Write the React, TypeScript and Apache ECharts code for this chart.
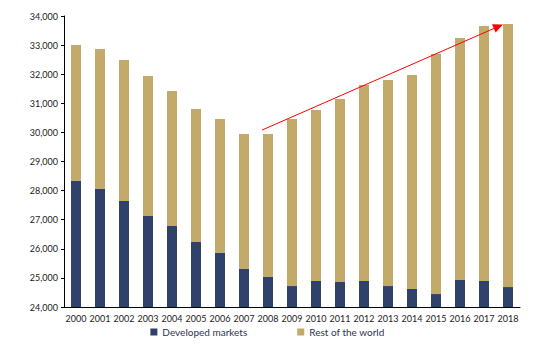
import React, { useEffect, useRef } from "react";
import * as echarts from "echarts";

const years = ["2000","2001","2002","2003","2004","2005","2006","2007","2008","2009","2010","2011","2012","2013","2014","2015","2016","2017","2018"];
const developed = [28330,28055,27645,27130,26785,26235,25855,25305,25030,24720,24895,24860,24895,24720,24620,24445,24930,24895,24685];
const totals = [33000,32870,32490,31940,31425,30805,30460,29945,29945,30460,30770,31150,31630,31800,31975,32695,33245,33655,33725];
const rest = totals.map((t, i) => t - developed[i]);
const yTicks = { min: 24000, max: 34000, interval: 1000 };
const trendStart = [7.75, 30080];
const trendEnd = [17.6, 33640];

export default function App() {
  const ref = useRef<HTMLDivElement>(null);
  useEffect(() => {
    const chart = echarts.init(ref.current!, null, { renderer: "svg" });
    const font = "Lato";
    chart.setOption({
      animation: false,
      grid: { left: 56, right: 7, top: 8, bottom: 39 },
      legend: {
        bottom: 4,
        left: "center",
        itemWidth: 7,
        itemHeight: 7,
        itemGap: 50,
        icon: "rect",
        textStyle: { fontFamily: font, fontSize: 10, color: "#2c3550" },
        data: ["Developed markets", "Rest of the world"],
      },
      xAxis: [
        {
          type: "category",
          data: years,
          axisLine: { onZero: false, lineStyle: { color: "#000", width: 1 } },
          axisTick: { show: false },
          axisLabel: { fontFamily: font, fontSize: 9, color: "#222", margin: 7, interval: 0 },
        },
        {
          type: "value",
          min: -0.5,
          max: years.length - 0.5,
          show: false,
          axisLine: { show: false, onZero: false },
          splitLine: { show: false },
        },
      ],
      yAxis: {
        type: "value",
        min: yTicks.min,
        max: yTicks.max,
        interval: yTicks.interval,
        axisLine: { show: true, onZero: false, lineStyle: { color: "#000", width: 1 } },
        axisTick: { show: true, length: 3, lineStyle: { color: "#000" } },
        splitLine: { show: false },
        axisLabel: {
          fontFamily: font,
          fontSize: 9,
          color: "#222",
          margin: 6,
          formatter: (v: number) => v.toLocaleString("en-US"),
        },
      },
      series: [
        {
          name: "Developed markets",
          type: "bar",
          stack: "total",
          data: developed,
          barWidth: 10,
          itemStyle: { color: "#2F426A" },
        },
        {
          name: "Rest of the world",
          type: "bar",
          stack: "total",
          data: rest,
          barWidth: 10,
          itemStyle: { color: "#C2A96C" },
        },
        {
          name: "trend",
          type: "line",
          xAxisIndex: 1,
          data: [trendStart, trendEnd],
          showSymbol: false,
          lineStyle: { opacity: 0 },
          silent: true,
          markLine: {
            silent: true,
            symbol: ["none", "triangle"],
            symbolSize: [9, 10],
            label: { show: false },
            lineStyle: { color: "#FF0000", width: 1, type: "solid" },
            data: [[{ coord: trendStart }, { coord: trendEnd }]],
          },
        },
      ],
    });
    return () => chart.dispose();
  }, []);
  return <div ref={ref} style={{ width: 519, height: 338 }} />;
}
